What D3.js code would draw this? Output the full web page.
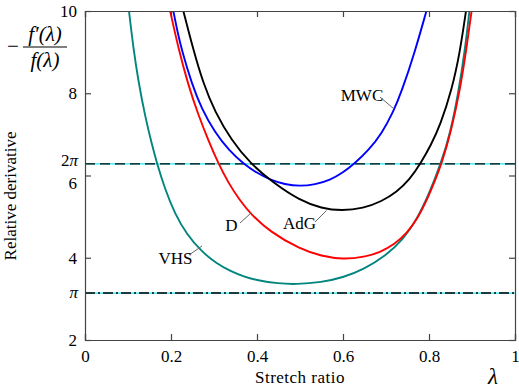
<!DOCTYPE html>
<html><head><meta charset="utf-8">
<script src="https://cdn.jsdelivr.net/npm/d3@7"></script>
<style>
body{margin:0;background:#fff;}
svg text{font-family:"Liberation Serif","Tinos","DejaVu Serif",serif !important;fill:#000;}
</style></head>
<body><svg id="c" width="519" height="389"></svg>
<script>
// ---- data ----
const xTicks = [0, 0.2, 0.4, 0.6, 0.8, 1];
const yTicks = [2, 4, 6, 8, 10];
const refLines = [2 * Math.PI, Math.PI];

const lambdaVHS = [0.1023, 0.1124, 0.124, 0.1395, 0.155, 0.1667, 0.186, 0.209, 0.2365, 0.271, 0.306, 0.337, 0.37, 0.40, 0.45, 0.49, 0.55, 0.60, 0.647, 0.70, 0.74, 0.77, 0.80, 0.828, 0.85, 0.868, 0.883, 0.894];
const valueVHS  = [10, 9.1, 8.3, 7.45, 6.78, 6.32, 5.67, 5.07, 4.57, 4.15, 3.86, 3.68, 3.54, 3.45, 3.372, 3.354, 3.40, 3.52, 3.71, 4.05, 4.45, 4.90, 5.55, 6.30, 7.05, 8.0, 9.0, 10];

const lambdaD = [0.198, 0.217, 0.240, 0.2636, 0.287, 0.3085, 0.3333, 0.3605, 0.384, 0.43, 0.50, 0.55, 0.60, 0.65, 0.686, 0.72, 0.748, 0.775, 0.795, 0.813, 0.830, 0.852, 0.872, 0.886, 0.899];
const valueD  = [10, 9.1, 8.2, 7.47, 6.85, 6.33, 5.82, 5.39, 5.08, 4.63, 4.21, 4.04, 3.96, 4.02, 4.13, 4.33, 4.59, 4.98, 5.40, 5.85, 6.30, 7.10, 8.08, 9.0, 10];

const lambdaMWC = [0.2054, 0.215, 0.225, 0.248, 0.2714, 0.302, 0.335, 0.368, 0.40, 0.43, 0.465, 0.50, 0.535, 0.57, 0.60, 0.628, 0.66, 0.69, 0.717, 0.736, 0.767, 0.794];
const valueMWC  = [10, 9.5, 9.05, 8.24, 7.62, 7.05, 6.61, 6.29, 6.06, 5.90, 5.78, 5.74, 5.78, 5.89, 6.07, 6.30, 6.62, 7.02, 7.55, 8.03, 9.0, 10];

const lambdaAdG = [0.2287, 0.252, 0.275, 0.302, 0.341, 0.3837, 0.438, 0.50, 0.55, 0.597, 0.647, 0.69, 0.725, 0.755, 0.781, 0.805, 0.826, 0.853, 0.872, 0.886];
const valueAdG  = [10, 9.05, 8.24, 7.55, 6.85, 6.30, 5.82, 5.39, 5.20, 5.14, 5.20, 5.37, 5.60, 5.90, 6.30, 6.75, 7.22, 8.08, 9.0, 10];

const seriesNames = ["VHS", "D", "MWC", "AdG"];
const seriesColors = ["#00857f", "#ff0000", "#0000ff", "#000000"];

// ---- layout ----
const svg = d3.select("#c");
const L = 85, R = 515, T = 11, B = 340;
const x = d3.scaleLinear().domain([0, 1]).range([L, R]);
const y = d3.scaleLinear().domain([2, 10]).range([B, T]);

svg.append("clipPath").attr("id", "pc").append("rect")
  .attr("x", L).attr("y", T).attr("width", R - L).attr("height", B - T);

// reference lines: cyan under black dashes
const refDash = ["10,5", "10,3,2,3"];
refLines.forEach((v, i) => {
  svg.append("line").attr("x1", L).attr("x2", R).attr("y1", y(v)).attr("y2", y(v))
    .attr("stroke", "#22e6f0").attr("stroke-width", 1.2);
  svg.append("line").attr("x1", L).attr("x2", R).attr("y1", y(v)).attr("y2", y(v))
    .attr("stroke", "#000").attr("stroke-width", 1.4).attr("stroke-dasharray", refDash[i]);
});

// curves
const seriesData = [
  d3.zip(lambdaVHS, valueVHS),
  d3.zip(lambdaD, valueD),
  d3.zip(lambdaMWC, valueMWC),
  d3.zip(lambdaAdG, valueAdG)
];
const line = d3.line().x(d => x(d[0])).y(d => y(d[1])).curve(d3.curveBasis);
const g = svg.append("g").attr("clip-path", "url(#pc)");
seriesData.forEach((d, i) => {
  g.append("path").attr("d", line(d)).attr("fill", "none")
    .attr("stroke", seriesColors[i]).attr("stroke-width", 1.9);
});

// frame and axes (ticks inward on all sides)
const axisColor = "#444";
const axB = svg.append("g").attr("transform", `translate(0,${B})`)
  .call(d3.axisBottom(x).tickValues(xTicks).tickSize(-6).tickPadding(10).tickFormat(d3.format("")));
const axT = svg.append("g").attr("transform", `translate(0,${T})`)
  .call(d3.axisTop(x).tickValues(xTicks).tickSize(-6).tickFormat(""));
const axL = svg.append("g").attr("transform", `translate(${L},0)`)
  .call(d3.axisLeft(y).tickValues(yTicks).tickSize(-6).tickPadding(8).tickFormat(d3.format("")));
const axR = svg.append("g").attr("transform", `translate(${R},0)`)
  .call(d3.axisRight(y).tickValues(yTicks).tickSize(-6).tickFormat(""));
[axB, axT, axL, axR].forEach(a => {
  a.attr("font-family", null);
  a.selectAll("path").attr("stroke", axisColor).attr("stroke-width", 1.2);
  a.selectAll("line").attr("stroke", axisColor).attr("stroke-width", 1.2);
  a.selectAll("text").attr("font-size", 17).attr("fill", "#000");
});
axL.selectAll(".tick").filter(d => d === 6).select("text").attr("dy", "0.75em");
// π labels
svg.append("text").attr("x", L - 7).attr("y", y(2 * Math.PI) + 2).attr("text-anchor", "end")
  .attr("font-size", 17).html('2<tspan font-style="italic">π</tspan>');
svg.append("text").attr("x", L - 7).attr("y", y(Math.PI) + 5).attr("text-anchor", "end")
  .attr("font-size", 17).attr("font-style", "italic").text("π");

// axis titles
svg.append("text").attr("x", (L + R) / 2).attr("y", 383).attr("text-anchor", "middle")
  .attr("font-size", 17).attr("letter-spacing", 0.5).text("Stretch ratio");
svg.append("text").attr("x", 493).attr("y", 384).attr("text-anchor", "middle")
  .attr("font-size", 23).attr("font-style", "italic").text("λ");
svg.append("text").attr("transform", "translate(16,196) rotate(-90)").attr("text-anchor", "middle")
  .attr("font-size", 17).text("Relative derivative");

// fraction label
svg.append("text").attr("x", 13).attr("y", 53).attr("text-anchor", "middle").attr("font-size", 21).text("−");
svg.append("text").attr("x", 45).attr("y", 41).attr("text-anchor", "middle").attr("font-size", 21)
  .attr("font-style", "italic").text("f′(λ)");
svg.append("line").attr("x1", 23).attr("x2", 67).attr("y1", 47).attr("y2", 47).attr("stroke", "#000").attr("stroke-width", 1.2);
svg.append("text").attr("x", 45).attr("y", 67).attr("text-anchor", "middle").attr("font-size", 21)
  .attr("font-style", "italic").text("f(λ)");

// curve labels with leader lines
const labelNames = ["MWC", "D", "AdG", "VHS"];
const labelPos = [[362, 101], [231.5, 231], [299.5, 229], [175.5, 264]];
const leaderFrom = [[380, 97], [240, 223], [315, 222], [189, 255]];
const leaderTo = [[393.5, 108.5], [251, 213], [326.5, 210.5], [202, 246]];
labelNames.forEach((n, i) => {
  svg.append("text").attr("x", labelPos[i][0]).attr("y", labelPos[i][1]).attr("text-anchor", "middle")
    .attr("font-size", 17).text(n);
  svg.append("line").attr("x1", leaderFrom[i][0]).attr("y1", leaderFrom[i][1])
    .attr("x2", leaderTo[i][0]).attr("y2", leaderTo[i][1]).attr("stroke", "#666").attr("stroke-width", 1);
});
</script></body></html>
